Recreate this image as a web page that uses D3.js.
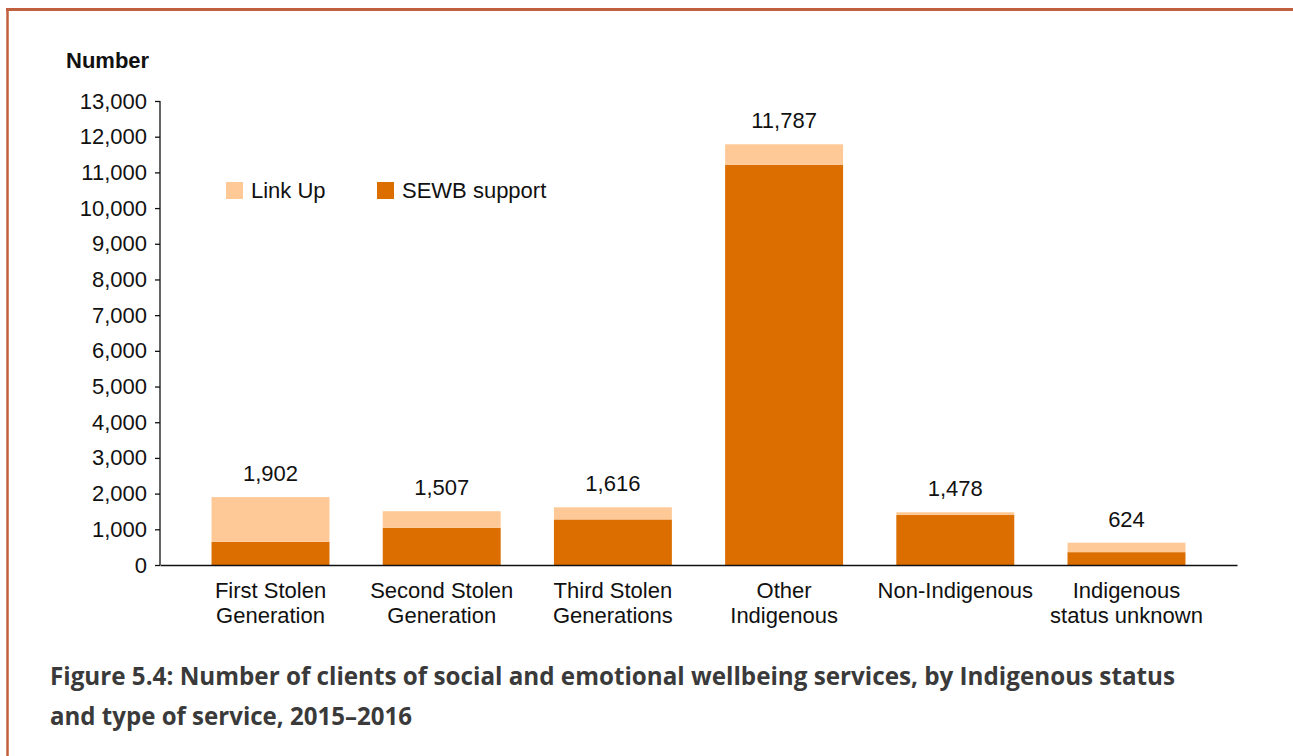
<!DOCTYPE html>
<html>
<head>
<meta charset="utf-8">
<script src="https://cdn.jsdelivr.net/npm/d3@7"></script>
<style>
  html, body { margin: 0; padding: 0; background: #ffffff; }
  svg { display: block; }
</style>
</head>
<body>
<svg id="chart" width="1293" height="756"></svg>
<script>
// Clients by Indigenous status and type of service, 2015–2016
const categories = [
  ["First Stolen", "Generation"],
  ["Second Stolen", "Generation"],
  ["Third Stolen", "Generations"],
  ["Other", "Indigenous"],
  ["Non-Indigenous"],
  ["Indigenous", "status unknown"]
];
const totals = [1902, 1507, 1616, 11787, 1478, 624];
const sewbSupport = [650, 1043, 1277, 11211, 1400, 360];
const linkUp = totals.map((t, i) => t - sewbSupport[i]);
const seriesNames = ["SEWB support", "Link Up"];
const yTicks = d3.range(0, 13001, 1000);

const colors = { "SEWB support": "#dc6e00", "Link Up": "#fec996" };
const font = "'Liberation Sans', Arial, sans-serif";
const fontSize = 22;

const svg = d3.select("#chart");

// Outer frame: left and top rules
svg.append("line").attr("x1", 7.5).attr("x2", 7.5).attr("y1", 8).attr("y2", 756)
  .attr("stroke", "#c0603f").attr("stroke-width", 2.5);
svg.append("line").attr("x1", 6).attr("x2", 1293).attr("y1", 9.5).attr("y2", 9.5)
  .attr("stroke", "#c0603f").attr("stroke-width", 3);

const plotLeft = 160, plotRight = 1237, plotTop = 101, plotBottom = 565;

const keys = categories.map(c => c.join(" "));
const x = d3.scaleBand().domain(keys).range([plotLeft, plotRight])
  .paddingInner(0.311).paddingOuter(0.301);
const y = d3.scaleLinear().domain([0, 13000]).range([plotBottom, plotTop]);

// Stacked bars
const rows = keys.map((k, i) => ({ key: k, "SEWB support": sewbSupport[i], "Link Up": linkUp[i] }));
const stack = d3.stack().keys(seriesNames)(rows);

svg.append("g").selectAll("g").data(stack).join("g")
  .attr("fill", d => colors[d.key])
  .selectAll("rect").data(d => d).join("rect")
  .attr("x", d => x(d.data.key))
  .attr("width", x.bandwidth())
  .attr("y", d => y(d[1]))
  .attr("height", d => y(d[0]) - y(d[1]));

// Total labels above bars
svg.append("g").selectAll("text").data(keys).join("text")
  .attr("x", d => x(d) + x.bandwidth() / 2)
  .attr("y", (d, i) => y(totals[i]) - 16)
  .attr("text-anchor", "middle")
  .attr("font-family", font).attr("font-size", fontSize).attr("fill", "#111")
  .text((d, i) => d3.format(",")(totals[i]));

// Y axis
const yAxis = svg.append("g").attr("transform", `translate(${plotLeft},0)`)
  .call(d3.axisLeft(y).tickValues(yTicks).tickSize(5).tickPadding(8).tickFormat(d3.format(",")));
yAxis.select(".domain").attr("stroke", "#111").attr("stroke-width", 1.3).attr("d", `M0,${plotTop}V${plotBottom}`);
yAxis.selectAll(".tick line").attr("stroke", "#111").attr("stroke-width", 1.3);
yAxis.selectAll(".tick text").attr("font-family", font).attr("font-size", fontSize).attr("fill", "#111");

// X axis baseline and category labels
const xAxis = svg.append("g").attr("transform", `translate(0,${plotBottom})`)
  .call(d3.axisBottom(x).tickSize(0).tickFormat(""));
xAxis.select(".domain").attr("stroke", "#111").attr("stroke-width", 1.5);

const catLabels = svg.append("g").selectAll("text").data(categories).join("text")
  .attr("text-anchor", "middle")
  .attr("font-family", font).attr("font-size", fontSize).attr("fill", "#111")
  .attr("transform", (d, i) => `translate(${x(keys[i]) + x.bandwidth() / 2},598)`);
catLabels.selectAll("tspan").data(d => d).join("tspan")
  .attr("x", 0).attr("dy", (d, i) => i === 0 ? 0 : 25).text(d => d);

// Axis title
svg.append("text").attr("x", 66).attr("y", 68)
  .attr("font-family", font).attr("font-size", fontSize).attr("font-weight", "bold").attr("fill", "#111")
  .text("Number");

// Legend
const legend = svg.append("g");
const legendItems = [
  { name: "Link Up", x: 226 },
  { name: "SEWB support", x: 377 }
];
legend.selectAll("rect").data(legendItems).join("rect")
  .attr("x", d => d.x).attr("y", 182).attr("width", 17).attr("height", 17)
  .attr("fill", d => colors[d.name]);
legend.selectAll("text").data(legendItems).join("text")
  .attr("x", d => d.x + 25).attr("y", 198)
  .attr("font-family", font).attr("font-size", fontSize).attr("fill", "#111")
  .text(d => d.name);

// Figure caption
const caption = [
  { text: "Figure 5.4: Number of clients of social and emotional wellbeing services, by Indigenous status", y: 685, w: 1125 },
  { text: "and type of service, 2015–2016", y: 725, w: 362 }
];
svg.append("g").selectAll("text").data(caption).join("text")
  .attr("x", 50).attr("y", d => d.y)
  .attr("textLength", d => d.w).attr("lengthAdjust", "spacingAndGlyphs")
  .attr("font-family", "'Open Sans', 'Noto Sans', sans-serif").attr("font-size", 25)
  .attr("font-weight", "bold").attr("fill", "#3a3a3a")
  .text(d => d.text);
</script>
</body>
</html>
